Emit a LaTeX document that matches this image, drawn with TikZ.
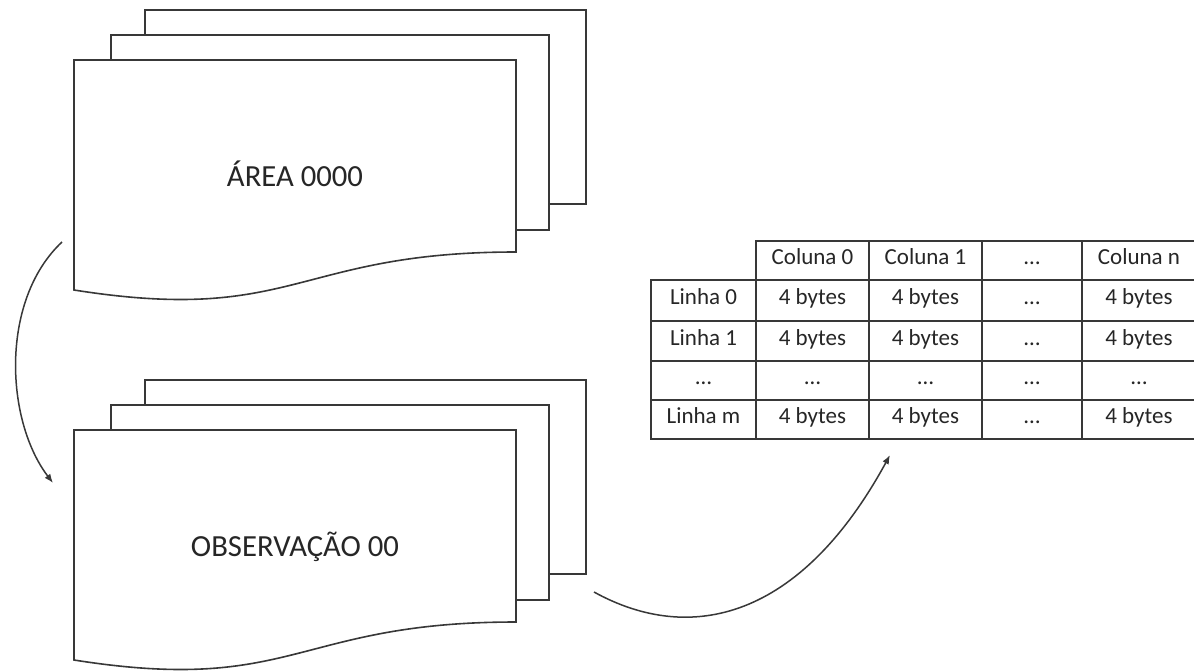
\documentclass[tikz,border=0pt]{standalone}
\usepackage{fontspec}
\setmainfont{Carlito}
\usetikzlibrary{arrows.meta}
\definecolor{ink}{HTML}{383838}
\definecolor{txt}{HTML}{262626}
\tikzset{
  sheet/.style={draw=ink, line width=1.6pt, fill=white, line join=miter},
  biglabel/.style={font=\fontsize{30.7}{36}\selectfont, text=txt, inner sep=0pt, anchor=base},
  cellbox/.style={draw=ink, line width=1.6pt, inner sep=0pt, text height=14pt, text depth=6pt,
    font=\fontsize{23}{27}\selectfont, text=txt},
  flow/.style={draw=ink, line width=1.5pt, -{Latex[length=9pt,width=7pt]}},
}
\newcommand\DocStack[3]{%
  \begin{scope}[yshift=#1]
    \draw[sheet] (145,10) rectangle (586,204);
    \draw[sheet] (111,35) rectangle (549,230);
    \draw[sheet] (74,60) -- (516,60) -- (516,252) .. controls (295,252) and (295,325) .. (74,290) -- cycle;
    \node[biglabel] (#2) at (295,186) {#3};
  \end{scope}}
\newcommand\Cell[6]{%
  \node[cellbox, minimum width={(#2-#1)*1pt}, minimum height={(#4-#3)*1pt}] (#5) at ({(#1+#2)/2},{(#3+#4)/2}) {#6};}
\begin{document}
\begin{tikzpicture}[x=1pt,y=-1pt]
  \useasboundingbox (0,0) rectangle (1194,670);
  \fill[white] (0,0) rectangle (1194,670);
  \DocStack{0pt}{area}{ÁREA 0000}
  \DocStack{-370pt}{obs}{OBSERVAÇÃO 00}
  % table
  \Cell{756}{869}{241}{280}{h1}{Coluna 0}
  \Cell{869}{982}{241}{280}{h2}{Coluna 1}
  \Cell{982}{1082}{241}{280}{h3}{…}
  \Cell{1082}{1196}{241}{280}{h4}{Coluna n}
  \Cell{651}{756}{280}{321}{r1}{Linha 0}
  \Cell{756}{869}{280}{321}{c11}{4 bytes}
  \Cell{869}{982}{280}{321}{c12}{4 bytes}
  \Cell{982}{1082}{280}{321}{c13}{…}
  \Cell{1082}{1196}{280}{321}{c14}{4 bytes}
  \Cell{651}{756}{321}{361}{r2}{Linha 1}
  \Cell{756}{869}{321}{361}{c21}{4 bytes}
  \Cell{869}{982}{321}{361}{c22}{4 bytes}
  \Cell{982}{1082}{321}{361}{c23}{…}
  \Cell{1082}{1196}{321}{361}{c24}{4 bytes}
  \Cell{651}{756}{361}{400}{r3}{…}
  \Cell{756}{869}{361}{400}{c31}{…}
  \Cell{869}{982}{361}{400}{c32}{…}
  \Cell{982}{1082}{361}{400}{c33}{…}
  \Cell{1082}{1196}{361}{400}{c34}{…}
  \Cell{651}{756}{400}{439}{r4}{Linha m}
  \Cell{756}{869}{400}{439}{c41}{4 bytes}
  \Cell{869}{982}{400}{439}{c42}{4 bytes}
  \Cell{982}{1082}{400}{439}{c43}{…}
  \Cell{1082}{1196}{400}{439}{c44}{4 bytes}
  % arrows
  \coordinate (a1s) at (62,242);
  \coordinate (a1e) at (53,483);
  \coordinate (a2s) at (594,592);
  \coordinate (a2e) at (890,455);
  \draw[flow] (a1s) .. controls (0,300) and (5,420) .. (a1e);
  \draw[flow] (a2s) .. controls (690,645) and (800,620) .. (a2e);
\end{tikzpicture}
\end{document}
